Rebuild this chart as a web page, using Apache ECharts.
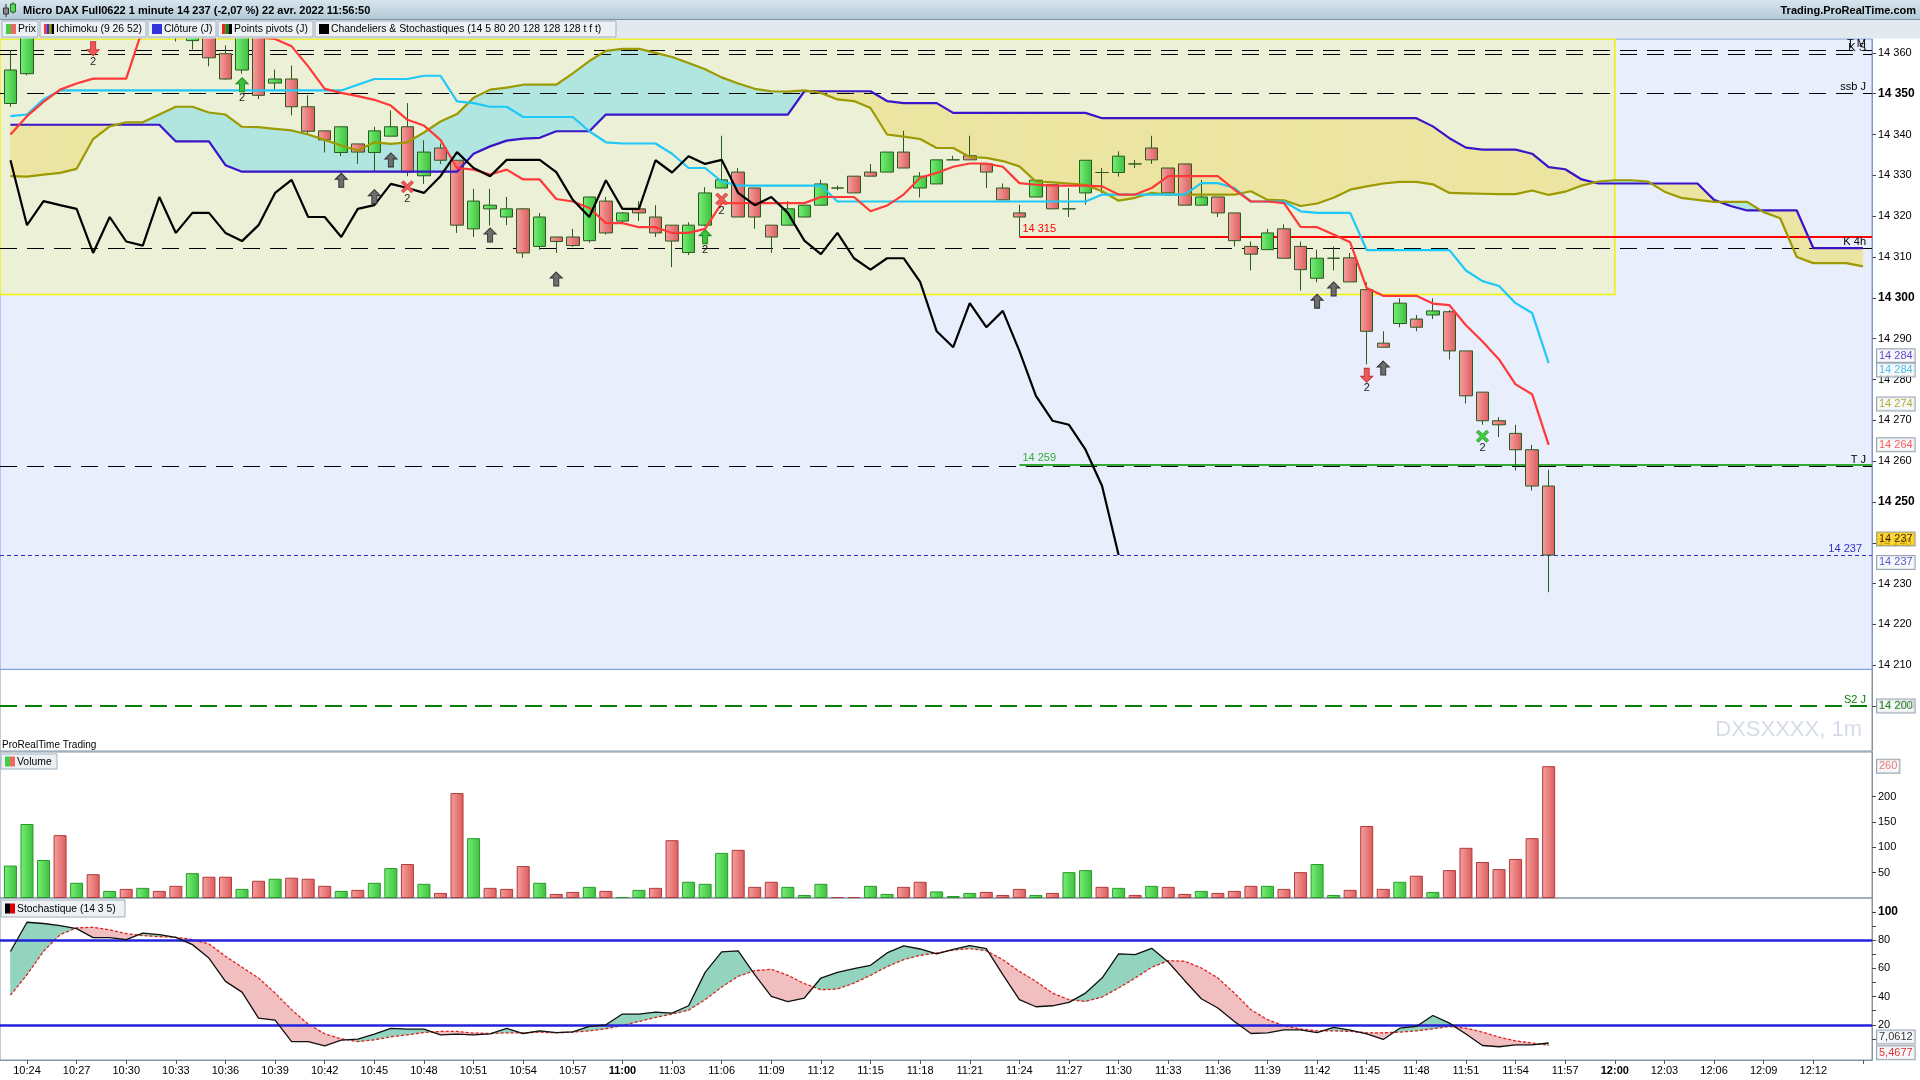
<!DOCTYPE html>
<html><head><meta charset="utf-8">
<script src="https://cdn.jsdelivr.net/npm/echarts/dist/echarts.min.js"></script>
<style>html,body{margin:0;padding:0;background:#fff}#c{width:1920px;height:1080px}</style>
</head><body><div id="c"></div><script>
// ---------- DATA (minute index m: 0 = 10:24, first candle m=-1 = 10:23) ----------
const firstMinute = -1;
const opens = [14347.6,14354.9,14365,14370,14366,14369,14366,14368,14367,14370,14368,14363,14365,14359.8,14355.8,14366,14352.6,14353.6,14346.8,14340.9,14335.6,14337.7,14335.6,14339.6,14341.9,14329.9,14336.7,14333.7,14316.9,14321.8,14319.8,14321.8,14312.6,14314.9,14314.9,14314.0,14323.7,14318.8,14321.8,14319.8,14317.8,14311.1,14317.8,14326.9,14330.8,14326.9,14317.8,14317.8,14319.8,14322.7,14326.9,14329.8,14330.8,14330.8,14335.7,14326.9,14327.9,14333.8,14334.8,14332.8,14326.9,14320.8,14324.7,14327.7,14321.8,14325.7,14330.7,14330.7,14332.8,14336.7,14331.8,14332.8,14322.7,14324.7,14320.8,14312.6,14311.8,14316.9,14312.6,14304.8,14309.7,14309.8,14302.0,14288.9,14293.7,14294.8,14295.8,14296.6,14287.0,14276.9,14269.9,14266.8,14262.8,14253.9];
const closes = [14355.8,14365,14368,14366,14369,14366,14368,14367,14370,14368,14365,14367,14358.8,14353.6,14365,14349.6,14353.6,14346.8,14340.8,14338.7,14341.9,14335.7,14340.9,14341.9,14330.8,14335.7,14333.7,14317.8,14323.7,14322.7,14321.8,14311.0,14319.8,14313.8,14312.8,14324.7,14315.9,14320.8,14320.8,14315.9,14313.9,14317.8,14325.7,14328.9,14319.8,14319.8,14314.9,14321.8,14322.7,14327.9,14326.9,14325.7,14329.8,14335.7,14331.8,14329.8,14333.8,14333.8,14333.8,14330.8,14324.0,14319.8,14328.8,14321.8,14321.8,14333.7,14330.7,14334.7,14332.8,14333.8,14325.7,14322.7,14324.7,14320.8,14314.0,14310.7,14315.9,14309.7,14306.9,14309.7,14309.7,14303.9,14291.8,14287.9,14298.7,14292.8,14296.8,14287.0,14276.0,14269.9,14268.9,14262.8,14253.9,14237.0];
const highs = [14360.6,14368,14370,14372,14371,14370,14369.5,14370,14371,14371,14369,14368,14366,14361.8,14366,14367,14355.9,14356.9,14349.6,14340.9,14341.9,14337.7,14341.9,14345.9,14347.7,14338.6,14337.8,14333.7,14326.7,14326.7,14324.7,14322.0,14320.8,14314.9,14316.9,14324.7,14324.7,14321.0,14323.7,14322.7,14317.8,14318.5,14327.1,14339.7,14331.8,14326.9,14317.8,14323.7,14322.7,14328.9,14327.5,14329.8,14332.8,14335.7,14340.9,14330.8,14333.8,14334.8,14339.7,14332.8,14328.0,14322.8,14328.8,14327.7,14326.9,14333.7,14331.8,14335.9,14333.8,14339.7,14331.8,14332.8,14328.9,14324.7,14320.8,14313.8,14316.9,14318.0,14313.8,14311.8,14312.6,14311.0,14303.8,14291.8,14299.9,14295.8,14299.9,14297.0,14287.0,14276.9,14270.8,14268.9,14264.0,14257.9];
const lows = [14346.8,14354.5,14363.8,14364,14365,14364.5,14365,14365.5,14366,14366.5,14362.8,14360.8,14356.7,14353.4,14354.9,14348.7,14351,14344.7,14340,14335.6,14334.7,14332.8,14331,14339.6,14329.8,14327.9,14332.8,14315.9,14314.9,14317.7,14317.8,14309.8,14311.8,14311.0,14312.5,14313.5,14315.5,14318.5,14318.8,14314.9,14307.5,14310.5,14317.5,14326.9,14319.8,14316.9,14311.0,14317.8,14319.8,14322.7,14326.4,14325.7,14329.8,14330.8,14331.8,14324.6,14327.9,14333.8,14333.8,14326.9,14324.0,14315.1,14324.7,14321.8,14319.8,14322.8,14325.7,14329.7,14331.8,14332.8,14325.7,14322.7,14322.7,14319.8,14312.6,14306.7,14311.8,14309.7,14301.8,14303.8,14306.7,14303.9,14283.7,14287.9,14292.8,14291.8,14294.8,14284.9,14274.1,14268.9,14265.9,14257.7,14252.8,14227.9];
const volumes = [64,146,75,124,30,47,14,18,20,14,24,49,42,42,18,34,38,40,38,24,14,16,30,59,67,28,10,207,118,20,18,63,30,8,12,22,14,2,16,20,114,32,28,89,95,22,32,22,6,28,2,2,24,8,22,32,13,4,10,12,6,18,6,10,51,55,22,20,6,24,22,8,14,10,14,24,24,18,51,67,6,16,142,18,32,44,12,55,99,71,57,77,118,260];
const volumeUp = [1,1,1,0,1,0,1,0,1,0,0,1,0,0,1,0,1,0,0,0,1,0,1,1,0,1,0,0,1,0,0,0,1,0,0,1,0,1,1,0,0,1,1,1,0,0,0,1,1,1,0,0,1,1,0,0,1,1,1,0,0,0,1,0,1,1,0,1,0,1,0,0,1,0,0,0,1,0,0,1,1,0,0,0,1,0,1,0,0,0,0,0,0,0];
const tenkan = [14340,14344.5,14348,14351,14352.5,14353.7,14353.7,14353.7,14366,14368,14368,14368,14368,14368,14366,14363.8,14363.4,14361.6,14356.7,14351.2,14350.2,14349.4,14348.5,14347.1,14343.6,14342.2,14338.7,14331.8,14331.4,14330.2,14331.4,14329,14329,14324.2,14323.6,14322,14318.3,14318.3,14317.3,14317.3,14315.9,14315.9,14316.9,14323.2,14323.2,14323.2,14323.2,14323.2,14323.2,14324.7,14324.7,14324.7,14321.2,14322.6,14325.3,14329.4,14330.6,14332.1,14332.9,14332.9,14332.1,14328.1,14327.7,14327.5,14327.5,14327.5,14327.3,14325.3,14325.3,14326.9,14329.8,14329.8,14329.8,14329.8,14326.5,14323.6,14323.6,14323.2,14317.4,14317.3,14315.5,14313.6,14302.4,14300.5,14300.5,14300.5,14298.6,14298.2,14293.3,14289.3,14284.9,14278.8,14276.4,14264];
const kijun = [14344.5,14344.9,14348.6,14350.8,14350.8,14350.8,14350.8,14350.8,14350.8,14350.8,14350.8,14350.8,14350.8,14350.8,14350.8,14350.8,14350.8,14350.8,14350.8,14350.8,14350.8,14352.2,14353.6,14353.6,14353.6,14354.4,14354.4,14348.1,14347.7,14346.8,14346.8,14344.3,14344.3,14344.3,14344.3,14340.8,14338.1,14337.8,14337.8,14337.8,14335.3,14331.8,14331.8,14328.5,14327.5,14327.5,14327.5,14327.5,14327.5,14327.5,14323.6,14323.6,14323.6,14323.6,14323.6,14323.6,14323.6,14323.6,14323.6,14323.6,14323.6,14323.6,14323.6,14323.6,14323.6,14323.6,14325.3,14325.3,14325.3,14325.3,14325.3,14325.3,14328.1,14328.1,14326.9,14323.6,14323.6,14323.6,14321.2,14320.8,14320.8,14320.8,14311.7,14311.7,14311.7,14311.7,14311.7,14311.7,14306.7,14304.1,14302.9,14298.7,14296.3,14284];
const senkouA = [14329.8,14329.7,14330.2,14330.6,14331.6,14338.9,14342,14343,14343,14344.9,14346.8,14346.8,14345.4,14344.9,14341.9,14341.8,14341.4,14341,14340,14338.7,14337.3,14336.1,14338.1,14337.7,14338.1,14340.5,14343.2,14345,14349,14351,14351.5,14352.2,14352.2,14352.2,14355,14358,14360.5,14361,14361,14360,14359,14357.5,14356,14354,14352.5,14351.2,14350.6,14350.5,14350.8,14350.2,14348.6,14348.2,14346.5,14340,14339.5,14338.9,14336.7,14336.7,14334.5,14334.3,14333.5,14332.2,14328.5,14328.3,14328,14327.7,14326.1,14323.8,14324.5,14325.7,14325.3,14325.3,14325.3,14325.3,14325.3,14326.1,14324,14323.9,14322.5,14323.1,14324.5,14326.5,14327.3,14328,14328.4,14328.4,14327.8,14325.7,14325.6,14325.5,14325.4,14325.4,14326.3,14325.2,14326,14327.5,14328.5,14328.8,14328.8,14328.5,14326,14324.5,14324,14323.5,14323.5,14323.5,14321,14319.5,14310,14308.5,14308.5,14308.5,14307.7];
const senkouB = [14342.4,14342.4,14342.4,14342.4,14342.4,14342.4,14342.4,14342.4,14342.4,14342.4,14338.3,14338.3,14338.3,14332.5,14330.9,14330.9,14330.9,14330.9,14330.9,14330.9,14330.9,14330.9,14330.9,14330.9,14330.9,14330.9,14330.9,14330.9,14335.3,14337.1,14338.5,14339,14339.2,14340.8,14340.8,14340.8,14344.9,14344.9,14344.9,14344.9,14344.9,14344.9,14344.9,14344.9,14344.9,14344.9,14344.9,14344.9,14350.6,14350.6,14350.6,14350.6,14350.6,14348.2,14347.7,14347.7,14347.7,14345.3,14345.3,14345.3,14345.3,14345.3,14345.3,14345.3,14345.3,14345.3,14344,14344,14344,14344,14344,14344,14344,14344,14344,14344,14344,14344,14344,14344,14344,14344,14344,14344,14344,14344,14342,14339.1,14336.8,14336.3,14336.3,14336.3,14335.3,14332,14331.5,14329,14328,14328,14328,14328,14328,14328,14328,14324,14322.5,14321.4,14321.4,14321.4,14321.4,14312.2,14312.2,14312.2,14312.2];
const stochK = [72,92.8,91.9,90.4,88.3,81.9,81.9,80.5,85,84,82.1,76.9,67.4,50.8,43.2,24.7,23.3,8.1,8.1,5.1,9.1,9.8,13.4,17.4,16.9,16.9,12.9,13.4,12.9,13.6,17.4,13.8,15.7,14.5,15,18.8,20,27.6,27.6,29,28.3,33.5,57.2,71.7,72.4,55.6,40.2,36.4,39,53.2,57.2,59.8,62.2,71,76,73.8,70.3,73.5,76.2,74.1,55.6,37.8,32.8,33.5,35.9,42.5,53.2,70.3,69.8,74.3,64.6,51.3,38.5,31.9,22.4,13.8,14.3,16.4,16.4,14.5,18.1,16.2,13.6,9.6,17.6,18.8,26.6,21.2,13.4,5.3,4.4,5.8,5.8,7.0612];
const stochD = [41,55.6,72.2,84,88.8,89.2,87.4,84.7,83.3,82.6,82.1,80.5,77.4,68.6,60.8,53.2,42.5,30.7,20.5,13.6,10,8.1,9.3,11.5,12.9,14.5,15.3,15.3,14.1,13.8,14.3,14.3,14.8,14.3,14.8,15.7,17.2,19.5,22.4,25.2,27.6,30.4,37.8,46.8,54.4,58.4,59.4,55.1,49.2,44.9,45.4,49.6,55.1,61.3,66.2,69.3,71,73,74.1,72.6,66.2,57.9,50.8,42.5,37.8,36.6,39.7,46.1,53.2,60.8,65.5,65.1,60.3,53.2,42.5,30.7,23.6,19.3,17,15.7,15.7,15.3,14.3,14.3,14.8,15.7,17.2,18.8,17.6,14.8,11.2,8.6,7.0,5.4677];
const timeTicks = [0,3,6,9,12,15,18,21,24,27,30,33,36,39,42,45,48,51,54,57,60,63,66,69,72,75,78,81,84,87,90,93,96,99,102,105,108];
const timeLabels = ['10:24','10:27','10:30','10:33','10:36','10:39','10:42','10:45','10:48','10:51','10:54','10:57','11:00','11:03','11:06','11:09','11:12','11:15','11:18','11:21','11:24','11:27','11:30','11:33','11:36','11:39','11:42','11:45','11:48','11:51','11:54','11:57','12:00','12:03','12:06','12:09','12:12'];
const boldTimes = ['11:00','12:00'];
const priceTicks = [14200,14210,14220,14230,14240,14250,14260,14270,14280,14290,14300,14310,14320,14330,14340,14350,14360];
const volumeTicks = [50,100,150,200];
const stochTicks = [20,40,60,80,100];
const stochMinorTicks = [10,20,30,40,50,60,70,80,90,100];
// levels
const pivotLines = [
  {value:14360.6, name:'T M'}, {value:14359.7, name:'K S'}, {value:14350, name:'ssb J'},
  {value:14312.1, name:'K 4h'}, {value:14258.7, name:'T J'}
];
const supportS2 = 14200, closeJ = 14315, openJ = 14259, lastPrice = 14237;
const levelStartMinute = 60;
const zoneLow = 14300.8, zoneEndMinute = 96, panelZoneLow = 14209;
// signals [minute, price]
const greyArrows = [[19,14328.8],[21,14324.8],[22,14333.8],[28,14315.4],[32,14304.6],[78,14299.2],[79,14302.2],[82,14282.8]];
const redDownArrows = [[4,14361],[81,14281]];
const greenUpArrows = [[13,14352.2],[41,14315]];
const redCrosses = [[23,14327.2],[42,14324.2]];
const greenCrosses = [[88,14266.1]];

// ---------- LAYOUT ----------
const X_MIN = -1.632, X_MAX = 111.55;
const FONT = '"Liberation Sans", Arial, sans-serif';
const PANEL_BORDER = '#8494a4';

const fmtPrice = v => { const s = String(Math.round(v)); return s.slice(0, 2) + ' ' + s.slice(2); };
const grad = (a, b) => ({type:'linear', x:0, y:0, x2:1, y2:0, colorStops:[{offset:0, color:a},{offset:1, color:b}]});
const GREEN_FILL = grad('#78ef78', '#3cbf3c');
const RED_FILL = grad('#f6a0a0', '#dc5c5c');
const CANDLE_BORDER = '#2b5a1f';

const candleData = opens.map((o, i) => [i + firstMinute, o, closes[i], lows[i], highs[i]]);
const chikouData = closes.slice(26).map((c, i) => [i + firstMinute, c]);
const lineData = arr => arr.map((v, i) => [i + firstMinute, v]);

function bandRender(top, bot, posColor, negColor) {
  return function (params, api) {
    const i = params.dataIndex;
    const xa = i + firstMinute, xb = xa + 1;
    const t0 = top[i], t1 = top[i + 1], b0 = bot[i], b1 = bot[i + 1];
    const d0 = t0 - b0, d1 = t1 - b1;
    const P = (x, y) => api.coord([x, y]);
    const kids = [];
    const poly = (pts, pos) => {
      const c = pos ? posColor : negColor;
      kids.push({type:'polygon', shape:{points:pts}, style:{fill:c, stroke:c, lineWidth:0.6}});
    };
    if (d0 * d1 >= 0) {
      poly([P(xa, t0), P(xb, t1), P(xb, b1), P(xa, b0)], (d0 + d1) >= 0);
    } else {
      const f = d0 / (d0 - d1);
      const xc = xa + f, yc = t0 + f * (t1 - t0);
      poly([P(xa, t0), P(xc, yc), P(xa, b0)], d0 > 0);
      poly([P(xc, yc), P(xb, t1), P(xb, b1)], d1 > 0);
    }
    return {type:'group', children:kids};
  };
}

function boxItem(x, y, text, color, bg, border) {
  return {value:[x, y], label:{show:true, position:'right', distance:5, formatter:text, color:color,
    backgroundColor:bg, borderColor:border, borderWidth:1, padding:[1,2,0,2], fontSize:11, fontFamily:FONT, lineHeight:12}};
}

const ARROW_UP = 'path://M6,0 L12,6 L8.5,6 L8.5,14 L3.5,14 L3.5,6 L0,6 Z';
const ARROW_DOWN = 'path://M3.5,0 L8.5,0 L8.5,8 L12,8 L6,14 L0,8 L3.5,8 Z';
const CROSS = 'path://M2,0 L6,4 L10,0 L12,2 L8,6 L12,10 L10,12 L6,8 L2,12 L0,10 L4,6 L0,2 Z';
function markerSeries(points, symbol, fill, stroke, withLabel, size) {
  return {type:'scatter', xAxisIndex:0, yAxisIndex:0, z:9, silent:true, symbol:symbol, symbolSize:size,
    itemStyle:{color:fill, borderColor:stroke, borderWidth:1, opacity:1},
    label:{show:withLabel, position:'bottom', distance:0, formatter:'2', fontSize:11, color:'#222', fontFamily:FONT},
    data:points};
}

const dashLine = (v, label, color, dash, width, labelColor, dist) => ({
  yAxis:v, lineStyle:{color:color, type:dash, width:width},
  label:{show:!!label, position:'insideEndTop', formatter:label || '', color:labelColor || '#000', fontSize:11, fontFamily:FONT, distance:dist || [6, 1]}
});

// legend helper
function legendBox(x, y, w, h, text, icons) {
  const els = [{type:'rect', z:100, shape:{x:x, y:y, width:w, height:h}, style:{fill:'#edf1f4', stroke:'#9eafbe', lineWidth:1}}];
  const iw = 10, sw = iw / icons.length;
  icons.forEach((c, k) => els.push({type:'rect', z:101, shape:{x:x + 4 + k * sw, y:y + h / 2 - 5, width:sw, height:10}, style:{fill:c}}));
  els.push({type:'text', z:101, x:x + 16, y:y + h / 2 + 0.5, style:{text:text, fill:'#000', font:'10.4px ' + FONT, verticalAlign:'middle'}});
  return els;
}

const graphics = [
  {type:'rect', z:99, shape:{x:0, y:0, width:1920, height:20}, style:{fill:{type:'linear', x:0, y:0, x2:0, y2:1, colorStops:[{offset:0, color:'#d6e5ee'},{offset:1, color:'#b2c8d5'}]}}},
  {type:'line', z:100, shape:{x1:0, y1:19.5, x2:1920, y2:19.5}, style:{stroke:'#7f909e', lineWidth:1}},
  {type:'rect', z:99, shape:{x:0, y:20, width:1920, height:18.5}, style:{fill:'#e3eaef'}},
  {type:'line', z:100, shape:{x1:6, y1:4, x2:6, y2:17}, style:{stroke:'#333', lineWidth:1}},
  {type:'rect', z:100, shape:{x:3.5, y:8, width:5, height:6}, style:{fill:'#888', stroke:'#333', lineWidth:1}},
  {type:'line', z:100, shape:{x1:13, y1:2, x2:13, y2:14}, style:{stroke:'#2a6a2a', lineWidth:1}},
  {type:'rect', z:100, shape:{x:10.5, y:4, width:5, height:8}, style:{fill:'#55dd55', stroke:'#2a6a2a', lineWidth:1}},
  {type:'text', z:100, x:23, y:10.5, style:{text:'Micro DAX Full0622 1 minute 14 237 (-2,07 %) 22 avr. 2022 11:56:50', fill:'#000', font:'bold 11px ' + FONT, verticalAlign:'middle'}},
  {type:'text', z:100, x:1916, y:10.5, style:{text:'Trading.ProRealTime.com', fill:'#000', font:'bold 11px ' + FONT, verticalAlign:'middle', align:'right'}},
  ...legendBox(2, 21, 36, 16, 'Prix', ['#44cc44', '#ee6666']),
  ...legendBox(40, 21, 106, 16, 'Ichimoku (9 26 52)', ['#ff3333', '#3333cc', '#999900', '#000000']),
  ...legendBox(148, 21, 68, 16, 'Clôture (J)', ['#3333dd']),
  ...legendBox(218, 21, 95, 16, 'Points pivots (J)', ['#ee2222', '#118811', '#000000']),
  ...legendBox(315, 21, 301, 16, 'Chandeliers & Stochastiques (14 5 80 20 128 128 128 t f t)', ['#000000']),
  ...legendBox(1, 754, 56, 15, 'Volume', ['#44cc44', '#ee6666']),
  ...legendBox(1, 900, 124, 17, 'Stochastique (14 3 5)', ['#000000', '#dd0000']),
  {type:'text', z:100, x:2, y:745, style:{text:'ProRealTime Trading', fill:'#000', font:'10px ' + FONT, verticalAlign:'middle'}},
  {type:'text', z:50, x:1862, y:730, style:{text:'DXSXXXX, 1m', fill:'#d6dce7', font:'22px ' + FONT, verticalAlign:'middle', align:'right'}}
];

const yAxisBase = (g, min, max, ticks, labels, fmt) => ({
  type:'value', gridIndex:g, position:'right', min:min, max:max, splitLine:{show:false},
  axisLine:{show:true, onZero:false, lineStyle:{color:PANEL_BORDER}},
  axisTick:{show:true, customValues:ticks, length:4, lineStyle:{color:'#444'}},
  axisLabel:{customValues:labels, margin:6, fontSize:11, color:'#000', fontFamily:FONT, formatter:fmt,
    rich:{b:{fontWeight:'bold', fontSize:12, fontFamily:FONT}}}
});

const option = {
  animation:false,
  backgroundColor:'#ffffff',
  textStyle:{fontFamily:FONT},
  graphic:{elements:graphics},
  grid:[
    {left:0, top:39, width:1872, height:712, show:true, borderColor:PANEL_BORDER, borderWidth:1, backgroundColor:'transparent'},
    {left:0, top:752, width:1872, height:146, show:true, borderColor:PANEL_BORDER, borderWidth:1, backgroundColor:'transparent'},
    {left:0, top:898, width:1872, height:162, show:true, borderColor:PANEL_BORDER, borderWidth:1, backgroundColor:'transparent'}
  ],
  xAxis:[0, 1, 2].map(g => ({
    type:'value', gridIndex:g, min:X_MIN, max:X_MAX, splitLine:{show:false},
    axisLine:{show:g === 2, onZero:false, lineStyle:{color:PANEL_BORDER}},
    axisTick:{show:g === 2, customValues:timeTicks.concat([111]), length:4, lineStyle:{color:'#555'}},
    axisLabel:{show:g === 2, customValues:timeTicks, margin:5, fontSize:11, color:'#000', fontFamily:FONT,
      formatter:v => { const t = timeLabels[timeTicks.indexOf(v)] || ''; return boldTimes.includes(t) ? '{b|' + t + '}' : t; },
      rich:{b:{fontWeight:'bold', fontSize:11, fontFamily:FONT}}}
  })),
  yAxis:[
    yAxisBase(0, 14189.0, 14363.4, priceTicks, priceTicks, v => (v % 50 === 0 ? '{b|' + fmtPrice(v) + '}' : fmtPrice(v))),
    yAxisBase(1, 0, 288, volumeTicks, volumeTicks, v => String(v)),
    yAxisBase(2, -5, 110, stochMinorTicks, stochTicks, v => (v === 100 ? '{b|100}' : String(v)))
  ],
  series:[
    // background zones
    {type:'line', xAxisIndex:0, yAxisIndex:0, z:1, silent:true, symbol:'none', lineStyle:{opacity:0}, data:[[0, 14300]],
      markArea:{silent:true, data:[
        [{xAxis:X_MIN, yAxis:panelZoneLow, itemStyle:{color:'#e8eefc', borderColor:'#7d9be0', borderWidth:1}}, {xAxis:X_MAX, yAxis:14363.4}],
        [{xAxis:X_MIN, yAxis:zoneLow, itemStyle:{color:'#ebf0d7', borderColor:'#f2f200', borderWidth:1.5}}, {xAxis:zoneEndMinute, yAxis:14363.4}]
      ]}},
    // Ichimoku cloud fill
    {type:'custom', xAxisIndex:0, yAxisIndex:0, z:2, silent:true, clip:true,
      renderItem:bandRender(senkouA, senkouB, '#b1e5df', '#ece5a2'),
      encode:{x:0, y:1}, data:lineData(senkouA.slice(0, -1))},
    // horizontal levels
    {type:'line', xAxisIndex:0, yAxisIndex:0, z:3, silent:true, symbol:'none', lineStyle:{opacity:0}, data:[[0, 14300]],
      markLine:{silent:true, symbol:['none', 'none'], animation:false, data:[
        ...pivotLines.map(p => dashLine(p.value, p.name, '#000', [17, 10], 1.2, '#000')),
        dashLine(supportS2, 'S2 J', '#078007', [17, 8], 2, '#078007'),
        dashLine(lastPrice, fmtPrice(lastPrice), '#3030c8', [4, 3], 1, '#3030c8', [10, 1]),
        dashLine(panelZoneLow, '', '#7d9be0', 'solid', 1),
        [{coord:[levelStartMinute, closeJ], lineStyle:{color:'#ff0000', type:'solid', width:2.2},
          label:{show:true, position:'insideStartTop', formatter:fmtPrice(closeJ), color:'#ff0000', fontSize:11, fontFamily:FONT, distance:[3, 2]}},
         {coord:[X_MAX, closeJ]}],
        [{coord:[levelStartMinute, openJ], lineStyle:{color:'#33aa33', type:'solid', width:2.2},
          label:{show:true, position:'insideStartTop', formatter:fmtPrice(openJ), color:'#33aa33', fontSize:11, fontFamily:FONT, distance:[3, 2]}},
         {coord:[X_MAX, openJ]}]
      ]}},
    // candles
    {type:'candlestick', xAxisIndex:0, yAxisIndex:0, z:6, barWidth:13, clip:true, data:candleData,
      itemStyle:{color:GREEN_FILL, color0:RED_FILL, borderColor:CANDLE_BORDER, borderColor0:CANDLE_BORDER, borderColorDoji:CANDLE_BORDER, borderWidth:1}},
    // Ichimoku lines
    {type:'line', name:'Senkou B', xAxisIndex:0, yAxisIndex:0, z:7, symbol:'none', data:lineData(senkouB), lineStyle:{color:'#3a14c8', width:2.2}},
    {type:'line', name:'Senkou A', xAxisIndex:0, yAxisIndex:0, z:7, symbol:'none', data:lineData(senkouA), lineStyle:{color:'#9c9a00', width:2.2}},
    {type:'line', name:'Kijun', xAxisIndex:0, yAxisIndex:0, z:7, symbol:'none', data:lineData(kijun), lineStyle:{color:'#1ec8f8', width:2.2}},
    {type:'line', name:'Tenkan', xAxisIndex:0, yAxisIndex:0, z:7, symbol:'none', data:lineData(tenkan), lineStyle:{color:'#ff3838', width:2.2}},
    {type:'line', name:'Chikou', xAxisIndex:0, yAxisIndex:0, z:8, symbol:'none', data:chikouData, lineStyle:{color:'#000000', width:2.2}},
    // signals
    markerSeries(greyArrows, ARROW_UP, '#6e6e6e', '#333333', false, [12, 14]),
    markerSeries(redDownArrows, ARROW_DOWN, '#f05858', '#c03a3a', true, [12, 14]),
    markerSeries(greenUpArrows, ARROW_UP, '#3dc23d', '#238a23', true, [12, 14]),
    markerSeries(redCrosses, CROSS, '#f05858', '#d04444', true, [12, 12]),
    markerSeries(greenCrosses, CROSS, '#44cc44', '#2a9a2a', true, [12, 12]),
    // price axis boxes
    {type:'scatter', xAxisIndex:0, yAxisIndex:0, z:20, silent:true, clip:false, symbolSize:0, data:[
      boxItem(X_MAX, 14285.8, fmtPrice(kijun[kijun.length - 1]), '#3a14c8', '#f4f6f8', '#7f8f9e'),
      boxItem(X_MAX, 14282.3, fmtPrice(kijun[kijun.length - 1]), '#1eaee8', '#f4f6f8', '#7f8f9e'),
      boxItem(X_MAX, 14274.0, '14 274', '#9c9a00', '#f4f6f8', '#7f8f9e'),
      boxItem(X_MAX, 14264.0, fmtPrice(tenkan[tenkan.length - 1]), '#ff3333', '#f4f6f8', '#7f8f9e'),
      boxItem(X_MAX, 14240.9, fmtPrice(lastPrice), '#000000', '#ffcc00', '#7f8f9e'),
      boxItem(X_MAX, 14235.2, fmtPrice(lastPrice), '#3030c8', '#f4f6f8', '#7f8f9e'),
      boxItem(X_MAX, 14200, fmtPrice(supportS2), '#078007', '#f4f6f8', '#7f8f9e')
    ]},
    // volume
    {type:'bar', xAxisIndex:1, yAxisIndex:1, barWidth:13, z:3,
      data:volumes.map((v, i) => ({value:[i + firstMinute, v], itemStyle:{color:volumeUp[i] ? GREEN_FILL : RED_FILL, borderColor:volumeUp[i] ? '#2a992a' : '#b33a3a', borderWidth:1}}))},
    {type:'scatter', xAxisIndex:1, yAxisIndex:1, z:20, silent:true, clip:false, symbolSize:0, data:[
      boxItem(X_MAX, volumes[volumes.length - 1], String(volumes[volumes.length - 1]), '#ee5555', '#f4f6f8', '#7f8f9e')]},
    // stochastic
    {type:'custom', xAxisIndex:2, yAxisIndex:2, z:2, silent:true, clip:true,
      renderItem:bandRender(stochK, stochD, '#93d4be', '#f1bfbf'), encode:{x:0, y:1}, data:lineData(stochK.slice(0, -1))},
    {type:'line', xAxisIndex:2, yAxisIndex:2, z:4, symbol:'none', data:lineData(stochD), lineStyle:{color:'#e02020', width:1.3, type:[3, 2]}},
    {type:'line', xAxisIndex:2, yAxisIndex:2, z:5, symbol:'none', data:lineData(stochK), lineStyle:{color:'#111111', width:1.3},
      markLine:{silent:true, symbol:['none', 'none'], data:[
        {yAxis:80, lineStyle:{color:'#2222dd', width:2.5, type:'solid'}, label:{show:false}},
        {yAxis:20, lineStyle:{color:'#2222dd', width:2.5, type:'solid'}, label:{show:false}}]}},
    {type:'scatter', xAxisIndex:2, yAxisIndex:2, z:20, silent:true, clip:false, symbolSize:0, data:[
      boxItem(X_MAX, 11.4, stochK[stochK.length - 1].toFixed(4).replace('.', ','), '#000000', '#f4f6f8', '#7f8f9e'),
      boxItem(X_MAX, 0.2, stochD[stochD.length - 1].toFixed(4).replace('.', ','), '#dd0000', '#f4f6f8', '#7f8f9e')]}
  ]
};
const chart = echarts.init(document.getElementById('c'), null, {renderer:'canvas'});
chart.setOption(option);
</script></body></html>
